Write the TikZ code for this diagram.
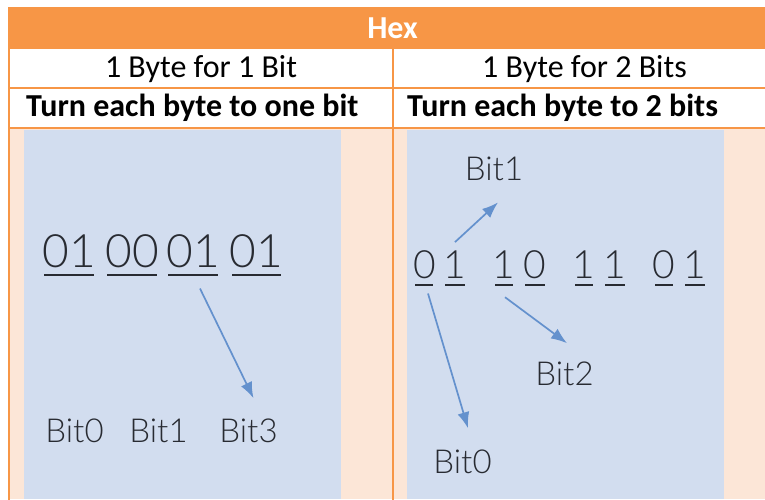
\documentclass[tikz,border=0pt]{standalone}
\usepackage{fontspec}
\setmainfont{Carlito}
\newfontfamily\thinfont{Lato Light}
\usetikzlibrary{arrows.meta}

\definecolor{hexorange}{RGB}{247,150,70}
\definecolor{peach}{RGB}{252,230,215}
\definecolor{panelblue}{RGB}{210,221,239}
\definecolor{arrowblue}{RGB}{100,145,205}
\definecolor{inkgray}{RGB}{40,43,50}

\tikzset{
  cell/.style={inner sep=0pt, font=\fontsize{32}{38}\selectfont},
  boldcell/.style={cell, font=\bfseries\fontsize{32}{38}\selectfont},
  bigdigit/.style={inner sep=0pt, anchor=base, text=inkgray, font=\thinfont\fontsize{46}{50}\selectfont},
  digit/.style={inner sep=0pt, anchor=base, text=inkgray, font=\thinfont\fontsize{39}{44}\selectfont},
  bitlabel/.style={inner sep=0pt, anchor=base, text=inkgray, font=\thinfont\fontsize{33}{38}\selectfont},
  bitarrow/.style={arrowblue, line width=1.7pt, -{Latex[length=16pt,width=12pt]}},
  uline/.style={inkgray, line width=1.6pt}
}

\begin{document}
\begin{tikzpicture}[x=1pt,y=-1pt]
  \useasboundingbox (0,0) rectangle (765,499);

  % table fills
  \fill[hexorange] (9,7) rectangle (776,49);
  \fill[white] (9,49) rectangle (776,128);
  \fill[peach] (9,128) rectangle (776,499);
  \fill[panelblue] (24,130) rectangle (341,499);
  \fill[panelblue] (407,130) rectangle (724,499);

  % table rules
  \draw[hexorange, line width=2pt] (9,7) -- (9,505);
  \draw[hexorange, line width=2pt] (9,88) -- (776,88);
  \draw[hexorange, line width=2pt] (9,128) -- (776,128);
  \draw[hexorange, line width=2pt] (393,49) -- (393,505);

  % header texts
  \node[boldcell, text=white] (hex) at (392.5,28) {Hex};
  \node[cell] (lhead) at (201,69) {1 Byte for 1 Bit};
  \node[cell] (rhead) at (584.5,69) {1 Byte for 2 Bits};
  \node[boldcell, anchor=west] (ldesc) at (26,108) {Turn each byte to one bit};
  \node[boldcell, anchor=west] (rdesc) at (407,108) {Turn each byte to 2 bits};

  % left panel: one byte per bit
  \node[bigdigit] (g1) at (69,267) {01};
  \node[bigdigit] (g2) at (132,267) {00};
  \node[bigdigit] (g3) at (193,267) {01};
  \node[bigdigit] (g4) at (256,267) {01};
  \draw[uline] (44,275) -- (94,275);
  \draw[uline] (107,275) -- (157,275);
  \draw[uline] (168,275) -- (218,275);
  \draw[uline] (232,275) -- (281,275);

  \node[bitlabel] (b0) at (74.5,442) {Bit0};
  \node[bitlabel] (b1) at (158.5,442) {Bit1};
  \node[bitlabel] (b3) at (248.5,442) {Bit3};

  \draw[bitarrow] ([shift={(7,21)}]g3.south) -- ([shift={(5,-20)}]b3.north);

  % right panel: one byte per two bits
  \node[digit] (r1a) at (425,278) {0};
  \node[digit] (r1b) at (455,278) {1};
  \node[digit] (r2a) at (504,278) {1};
  \node[digit] (r2b) at (535,278) {0};
  \node[digit] (r3a) at (584,278) {1};
  \node[digit] (r3b) at (615,278) {1};
  \node[digit] (r4a) at (664,278) {0};
  \node[digit] (r4b) at (695,278) {1};
  \draw[uline] (415,285) -- (433,285);
  \draw[uline] (445,285) -- (465,285);
  \draw[uline] (495,285) -- (513,285);
  \draw[uline] (525,285) -- (545,285);
  \draw[uline] (575,285) -- (593,285);
  \draw[uline] (605,285) -- (625,285);
  \draw[uline] (655,285) -- (673,285);
  \draw[uline] (685,285) -- (705,285);

  \node[bitlabel] (c1) at (494,180) {Bit1};
  \node[bitlabel] (c2) at (564.5,385) {Bit2};
  \node[bitlabel] (c0) at (462.5,473) {Bit0};

  \draw[bitarrow] ([shift={(0,-8)}]r1b.north) -- ([shift={(4,22)}]c1.south);
  \draw[bitarrow] ([shift={(1,19)}]r2a.south) -- ([shift={(2.5,-18)}]c2.north);
  \draw[bitarrow] ([shift={(3,15)}]r1a.south) -- ([shift={(5.5,-21)}]c0.north);
\end{tikzpicture}
\end{document}
